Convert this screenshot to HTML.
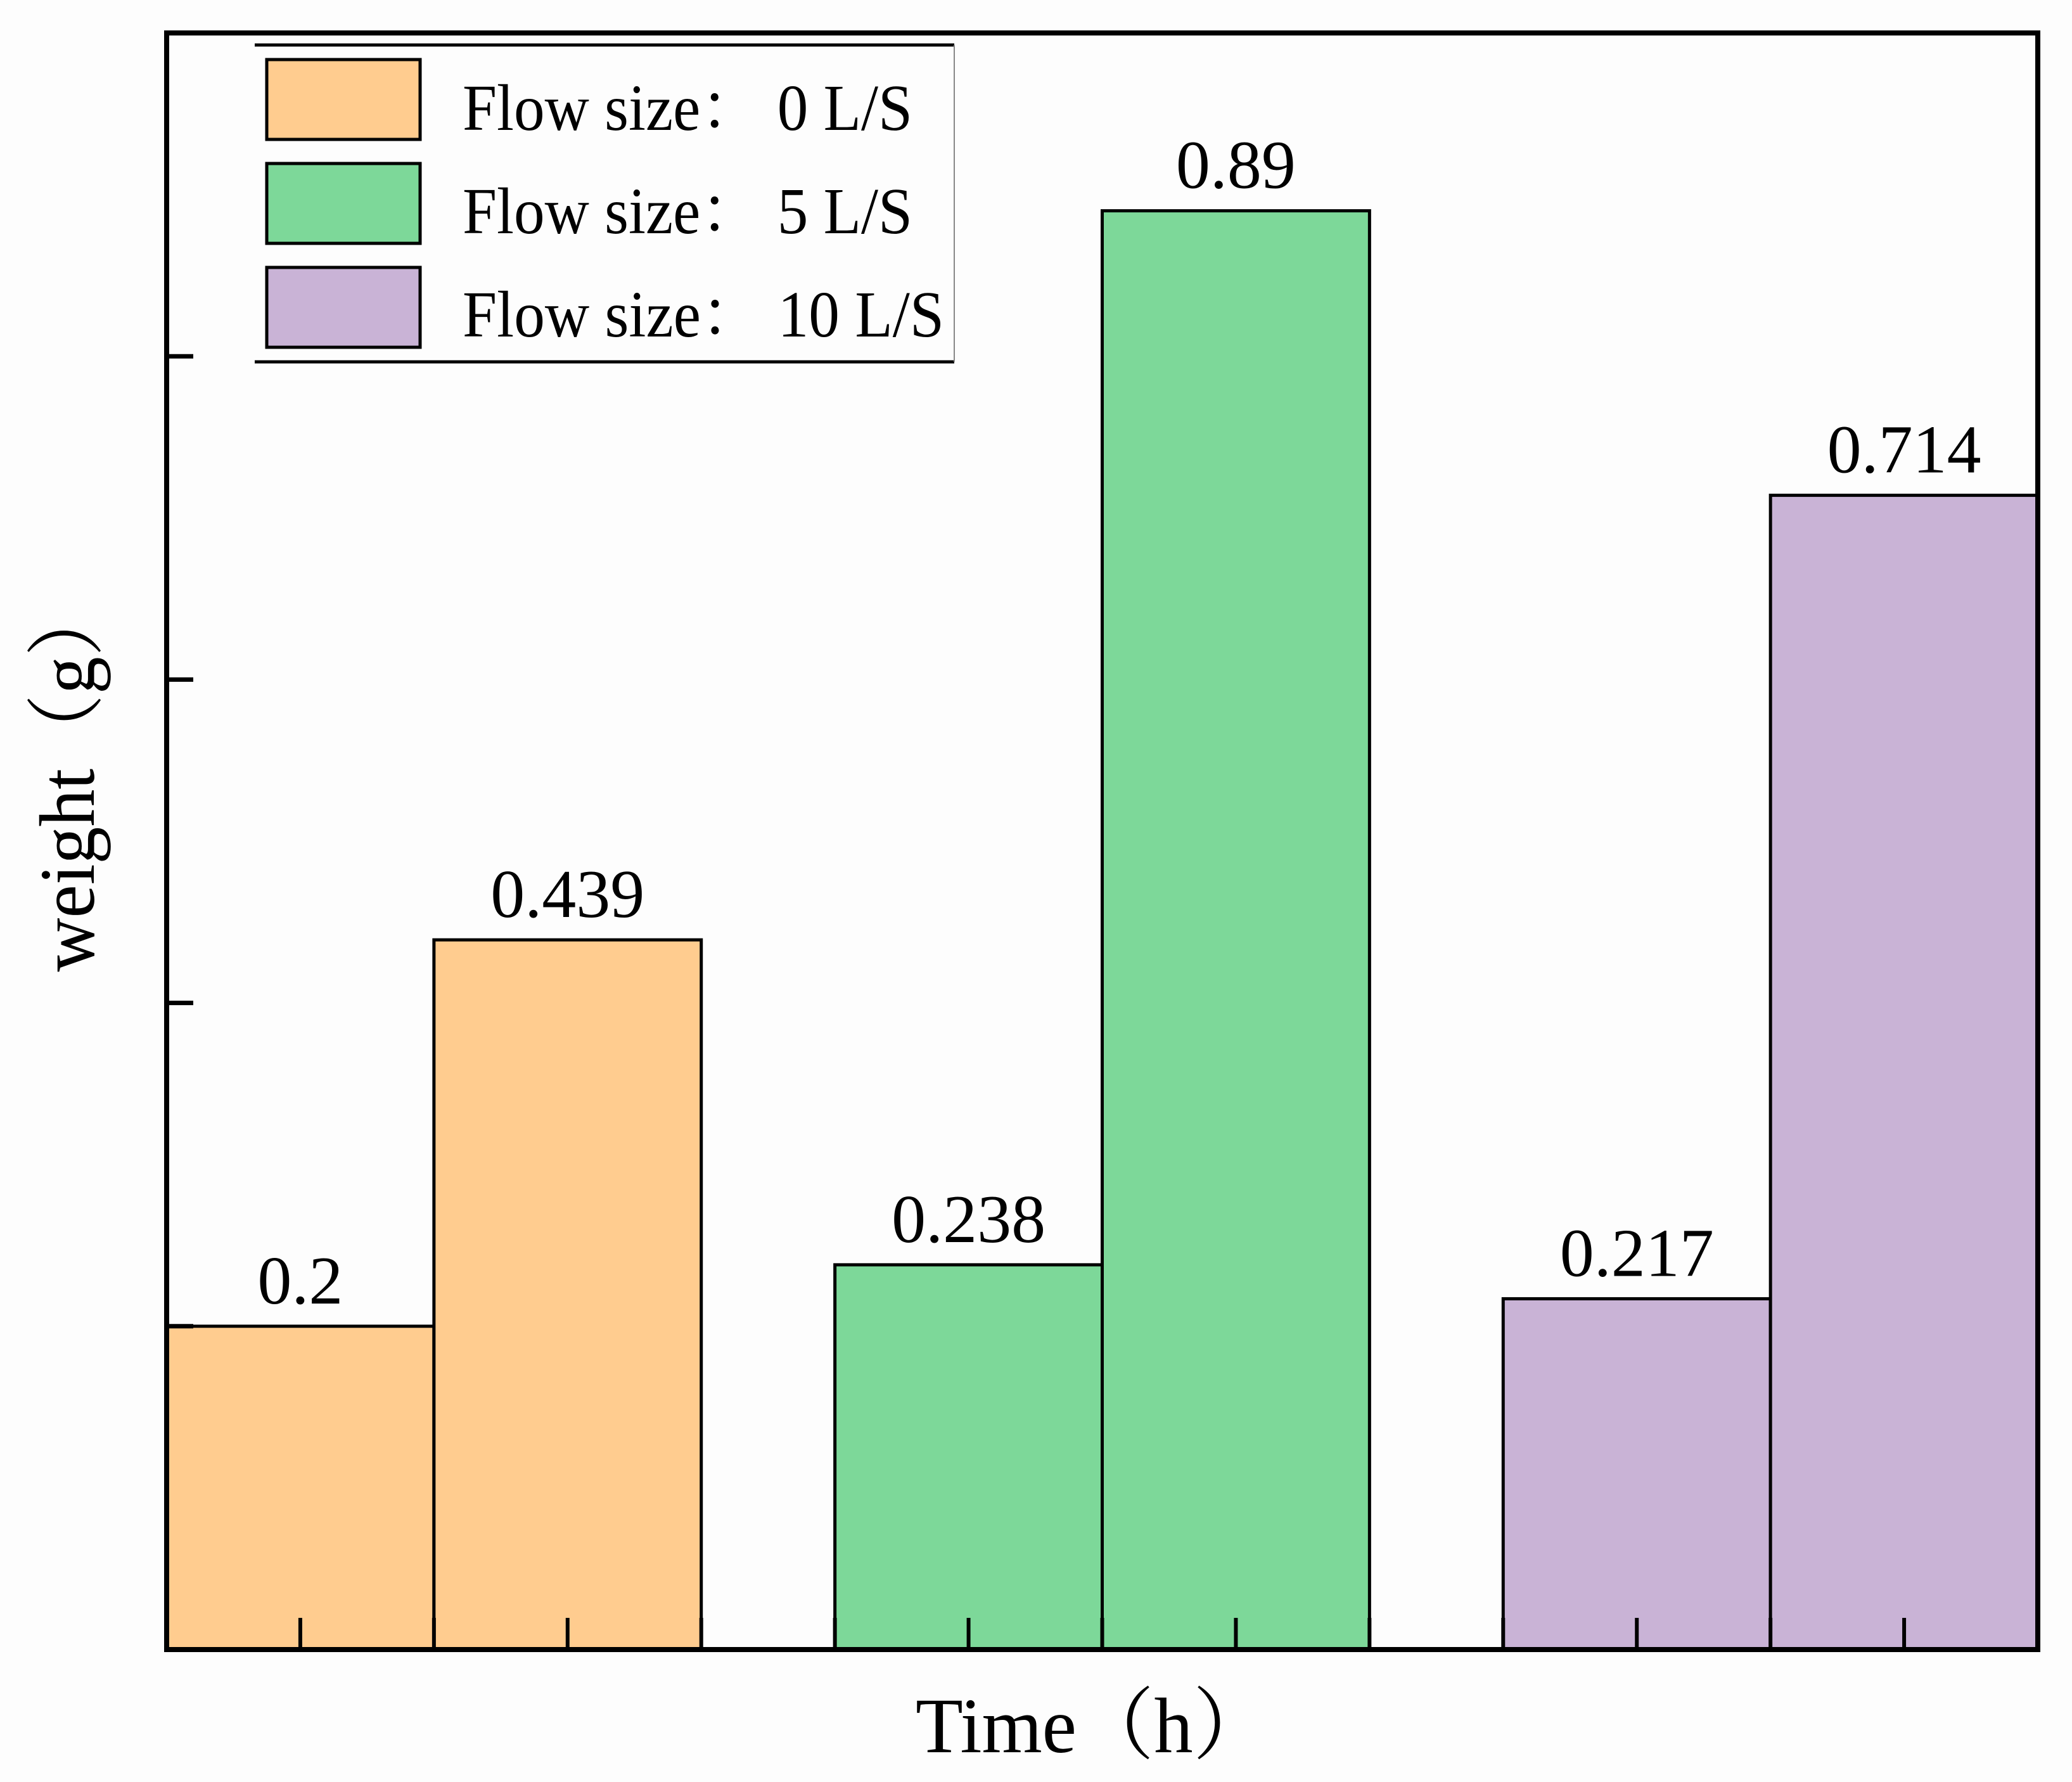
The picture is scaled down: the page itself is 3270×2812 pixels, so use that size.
<!DOCTYPE html>
<html><head><meta charset="utf-8"><style>
html,body{margin:0;padding:0;background:#fff}
svg{display:block}
text{font-family:"Liberation Serif","Noto Serif CJK SC",serif;fill:#000}
</style></head><body>
<svg id="chart" width="3270" height="2812" viewBox="0 0 3270 2812" xmlns="http://www.w3.org/2000/svg">
<rect x="0" y="0" width="3270" height="2812" fill="#fdfdfd"/>
<g id="bars"></g>
<g id="labels"></g>
<g id="axes"></g>
<g id="legend">
  <line x1="402" y1="71" x2="1506" y2="71" stroke="#000" stroke-width="5"/>
  <line x1="402" y1="571" x2="1506" y2="571" stroke="#000" stroke-width="5"/>
  <line x1="1506" y1="71" x2="1506" y2="571" stroke="#888" stroke-width="2"/>
  <rect x="421" y="94" width="242" height="126" fill="#FFCC8F" stroke="#000" stroke-width="5"/>
  <rect x="421" y="258" width="242" height="126" fill="#7DD899" stroke="#000" stroke-width="5"/>
  <rect x="421" y="422" width="242" height="126" fill="#C9B3D6" stroke="#000" stroke-width="5"/>
  <text x="730" y="205" font-size="104" textLength="710" lengthAdjust="spacingAndGlyphs">Flow size：  0 L/S</text>
  <text x="730" y="368" font-size="104" textLength="710" lengthAdjust="spacingAndGlyphs">Flow size：  5 L/S</text>
  <text x="730" y="531" font-size="104" textLength="760" lengthAdjust="spacingAndGlyphs">Flow size：  10 L/S</text>
</g>
<text x="1725" y="2765" font-size="124" text-anchor="middle" textLength="560" lengthAdjust="spacingAndGlyphs">Time（h）</text>
<text transform="translate(148,1226) rotate(-90)" font-size="124" text-anchor="middle" textLength="615" lengthAdjust="spacingAndGlyphs">weight（g）</text>
</svg>
<script>
const categories = ["g1a","g1b","g2a","g2b","g3a","g3b"];
const positions = [1,3,6,8,11,13];
const values = [0.2,0.439,0.238,0.89,0.217,0.714];
const valueLabels = ["0.2","0.439","0.238","0.89","0.217","0.714"];
const seriesIndex = [0,0,1,1,2,2];
const colors = ["#FFCC8F","#7DD899","#C9B3D6"];
const yTicks = [0.2,0.4,0.6,0.8];
const xTicks = [1,2,3,4,5,6,7,8,9,10,11,12,13];

const L=263,R=3216,T=52,B=2603, XMAX=14, YMAX=1.0, BW=2;
const xs=v=>L+(R-L)*v/XMAX;
const ys=v=>B-(B-T)*v/YMAX;
const NS="http://www.w3.org/2000/svg";
function mk(tag,attrs,parent){const e=document.createElementNS(NS,tag);for(const k in attrs)e.setAttribute(k,attrs[k]);parent.appendChild(e);return e;}
const gb=document.getElementById('bars'),gl=document.getElementById('labels'),ga=document.getElementById('axes');
values.forEach((v,i)=>{
  const x0=xs(positions[i]-BW/2),x1=xs(positions[i]+BW/2);
  const r=mk('rect',{x:x0,y:ys(v),width:x1-x0,height:B-ys(v),fill:colors[seriesIndex[i]],stroke:'#000','stroke-width':5},gb);
  
  
  const t=mk('text',{x:xs(positions[i]),y:ys(v)-36,'font-size':108,'text-anchor':'middle'},gl);
  t.textContent=valueLabels[i];
  
  
});
yTicks.forEach(v=>{
  const l=mk('line',{x1:L,x2:L+42,y1:ys(v),y2:ys(v),stroke:'#000','stroke-width':7},ga);
  
  
});
xTicks.forEach(v=>{
  const l=mk('line',{x1:xs(v),x2:xs(v),y1:B,y2:B-50,stroke:'#000','stroke-width':6},ga);
  
  
});
const f=mk('rect',{x:L,y:T,width:R-L,height:B-T,fill:'none',stroke:'#000','stroke-width':8},ga);


</script>
</body></html>
